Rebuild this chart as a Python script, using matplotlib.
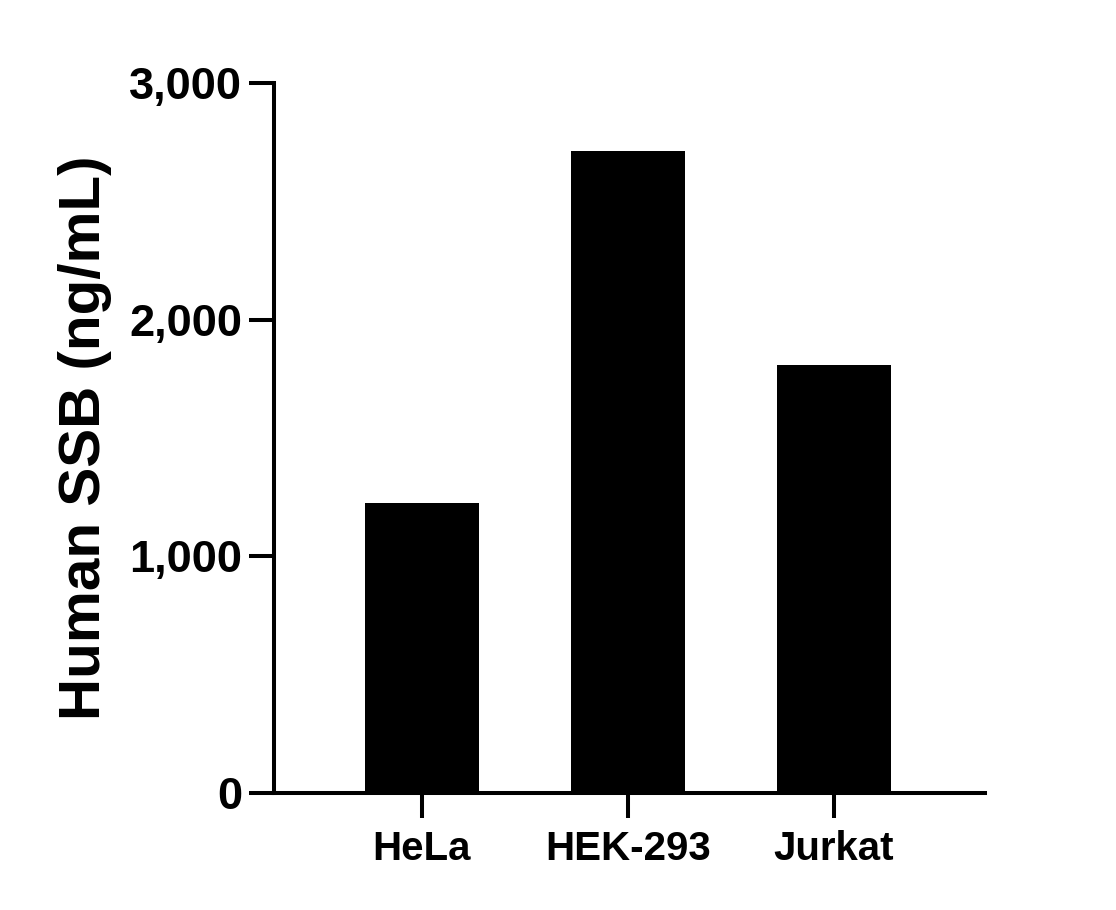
import matplotlib
matplotlib.use("Agg")
import matplotlib.pyplot as plt
from matplotlib.ticker import FuncFormatter

# values
cell_lines = ["HeLa", "HEK-293", "Jurkat"]
ssb_ng_ml = [1225, 2712, 1808]
y_ticks = [0, 1000, 2000, 3000]

plt.rcParams["font.family"] = ["Liberation Sans", "DejaVu Sans"]
plt.rcParams["font.weight"] = "bold"

fig = plt.figure(figsize=(11.16, 9.10), dpi=100)
ax = fig.add_axes([0.2455, 0.1286, 0.637, 0.780])

x = range(len(cell_lines))
ax.bar(x, ssb_ng_ml, width=0.553, color="black")

ax.set_xlim(-0.718, 2.733)
ax.set_ylim(0, 3000)
ax.set_yticks(y_ticks)
ax.yaxis.set_major_formatter(FuncFormatter(lambda v, p: f"{int(v):,}"))
ax.set_xticks(list(x))
ax.set_xticklabels(cell_lines)

for side in ["top", "right"]:
    ax.spines[side].set_visible(False)
for side in ["left", "bottom"]:
    ax.spines[side].set_linewidth(2.9)

ax.tick_params(axis="both", width=2.9, length=18, direction="out", color="black")
ax.tick_params(axis="y", pad=5, labelsize=32.5)
ax.tick_params(axis="x", pad=9, labelsize=29)
for lab in ax.get_xticklabels() + ax.get_yticklabels():
    lab.set_fontweight("bold")

ax.set_ylabel("Human SSB (ng/mL)", fontsize=42, fontweight="bold", labelpad=12)

fig.savefig("out.png", dpi=100)
